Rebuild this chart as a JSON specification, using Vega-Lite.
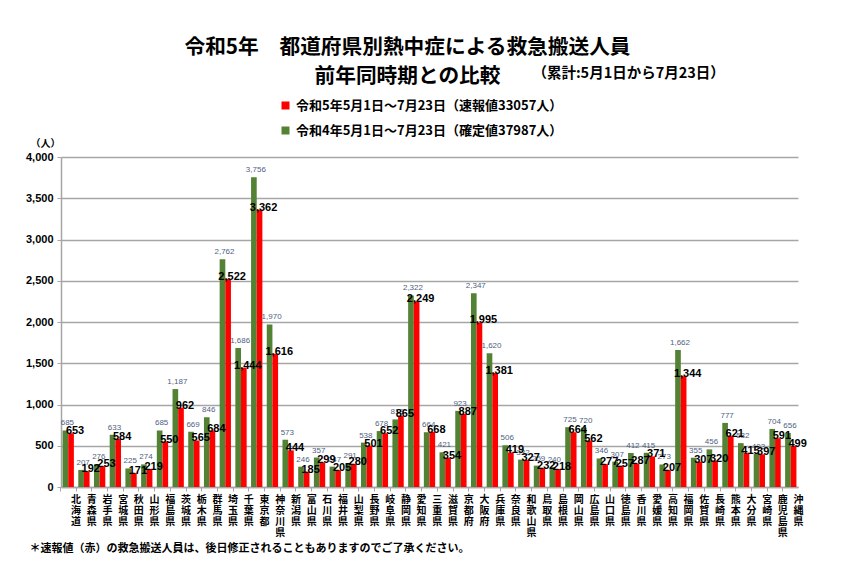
{
  "$schema": "https://vega.github.io/schema/vega-lite/v6.json",
  "width": 737,
  "height": 330,
  "autosize": "none",
  "padding": {"left": 61, "top": 157, "right": 56, "bottom": 97},
  "title": {
    "text": ["令和5年　都道府県別熱中症による救急搬送人員", "前年同時期との比較"],
    "subtitle": "\u200b　　　　　　　　　　　　　　　　　　　　　　　　　　　　　　　（累計:5月1日から7月23日）",
    "anchor": "middle",
    "frame": "group",
    "dx": -22,
    "font": "Noto Sans CJK JP",
    "fontSize": 20.7,
    "fontWeight": "bold",
    "lineHeight": 29,
    "color": "#000000",
    "subtitleFont": "Noto Sans CJK JP",
    "subtitleFontSize": 14.5,
    "subtitleFontWeight": "bold",
    "subtitleColor": "#000000",
    "subtitlePadding": -21,
    "offset": 11
  },
  "data": {
    "values": [
      {"pref": "北海道", "r4": 685, "r5": 653},
      {"pref": "青森県", "r4": 207, "r5": 192},
      {"pref": "岩手県", "r4": 276, "r5": 253},
      {"pref": "宮城県", "r4": 633, "r5": 584},
      {"pref": "秋田県", "r4": 225, "r5": 171},
      {"pref": "山形県", "r4": 274, "r5": 219},
      {"pref": "福島県", "r4": 685, "r5": 550},
      {"pref": "茨城県", "r4": 1187, "r5": 962},
      {"pref": "栃木県", "r4": 669, "r5": 565},
      {"pref": "群馬県", "r4": 846, "r5": 684},
      {"pref": "埼玉県", "r4": 2762, "r5": 2522},
      {"pref": "千葉県", "r4": 1686, "r5": 1444},
      {"pref": "東京都", "r4": 3756, "r5": 3362},
      {"pref": "神奈川県", "r4": 1970, "r5": 1616},
      {"pref": "新潟県", "r4": 573, "r5": 444},
      {"pref": "富山県", "r4": 246, "r5": 185},
      {"pref": "石川県", "r4": 357, "r5": 299},
      {"pref": "福井県", "r4": 247, "r5": 205},
      {"pref": "山梨県", "r4": 291, "r5": 280},
      {"pref": "長野県", "r4": 538, "r5": 501},
      {"pref": "岐阜県", "r4": 678, "r5": 652},
      {"pref": "静岡県", "r4": 819, "r5": 865},
      {"pref": "愛知県", "r4": 2322, "r5": 2249},
      {"pref": "三重県", "r4": 664, "r5": 668},
      {"pref": "滋賀県", "r4": 421, "r5": 354},
      {"pref": "京都府", "r4": 923, "r5": 887},
      {"pref": "大阪府", "r4": 2347, "r5": 1995},
      {"pref": "兵庫県", "r4": 1620, "r5": 1381},
      {"pref": "奈良県", "r4": 506, "r5": 419},
      {"pref": "和歌山県", "r4": 332, "r5": 327},
      {"pref": "鳥取県", "r4": 259, "r5": 232},
      {"pref": "島根県", "r4": 240, "r5": 218},
      {"pref": "岡山県", "r4": 725, "r5": 664},
      {"pref": "広島県", "r4": 720, "r5": 562},
      {"pref": "山口県", "r4": 346, "r5": 277},
      {"pref": "徳島県", "r4": 307, "r5": 257},
      {"pref": "香川県", "r4": 412, "r5": 287},
      {"pref": "愛媛県", "r4": 415, "r5": 371},
      {"pref": "高知県", "r4": 273, "r5": 207},
      {"pref": "福岡県", "r4": 1662, "r5": 1344},
      {"pref": "佐賀県", "r4": 355, "r5": 307},
      {"pref": "長崎県", "r4": 456, "r5": 320},
      {"pref": "熊本県", "r4": 777, "r5": 621},
      {"pref": "大分県", "r4": 532, "r5": 415},
      {"pref": "宮崎県", "r4": 403, "r5": 397},
      {"pref": "鹿児島県", "r4": 704, "r5": 591},
      {"pref": "沖縄県", "r4": 656, "r5": 499}
    ]
  },
  "transform": [
    {"fold": ["r4", "r5"], "as": ["key", "count"]}
  ],
  "encoding": {
    "x": {
      "field": "pref",
      "type": "nominal",
      "sort": null,
      "scale": {"paddingInner": 0.28, "paddingOuter": 0.1},
      "axis": {
        "title": "＊速報値（赤）の救急搬送人員は、後日修正されることもありますのでご了承ください。",
        "titleFont": "Noto Sans CJK JP",
        "titleFontSize": 11,
        "titleFontWeight": "bold",
        "titleColor": "#000000",
        "titleAnchor": "start",
        "titleAlign": "left",
        "titleBaseline": "middle",
        "titleX": -32,
        "titleY": 61,
        "labelAngle": 0,
        "labelExpr": "split(datum.label, '')",
        "labelFont": "Noto Sans CJK JP",
        "labelFontSize": 10,
        "labelFontWeight": "bold",
        "labelColor": "#000000",
        "labelLineHeight": 11,
        "labelBaseline": "top",
        "labelPadding": 3,
        "bandPosition": -0.195,
        "labelOffset": 7.8,
        "tickSize": 4,
        "tickColor": "#A6A6A6",
        "domainColor": "#A6A6A6",
        "domainWidth": 1.5
      }
    },
    "xOffset": {"field": "key", "type": "nominal", "scale": {"domain": ["r4", "r5"], "paddingInner": 0}},
    "y": {
      "field": "count",
      "type": "quantitative",
      "scale": {"domain": [0, 4000]},
      "axis": {
        "values": [0, 500, 1000, 1500, 2000, 2500, 3000, 3500, 4000],
        "format": ",d",
        "title": "（人）",
        "titleAngle": 0,
        "titleX": -16,
        "titleY": -14,
        "titleAlign": "center",
        "titleBaseline": "middle",
        "titleFont": "Noto Sans CJK JP",
        "titleFontSize": 10,
        "titleFontWeight": "bold",
        "titleColor": "#000000",
        "labelFont": "Liberation Sans",
        "labelFontSize": 11,
        "labelFontWeight": "bold",
        "labelColor": "#000000",
        "labelPadding": 4,
        "tickSize": 4,
        "tickColor": "#A6A6A6",
        "domainColor": "#A6A6A6",
        "domainWidth": 1.5,
        "gridColor": "#A6A6A6",
        "gridWidth": 1.5
      }
    }
  },
  "layer": [
    {
      "mark": {"type": "bar"},
      "encoding": {
        "color": {
          "field": "key",
          "type": "nominal",
          "scale": {"domain": ["r5", "r4"], "range": ["#FF0000", "#548235"]},
          "legend": {
            "orient": "none",
            "legendX": 218,
            "legendY": -58,
            "title": null,
            "symbolType": "square",
            "symbolSize": 64,
            "symbolStrokeWidth": 0,
            "labelFont": "Noto Sans CJK JP",
            "labelFontSize": 13,
            "labelFontWeight": "bold",
            "labelColor": "#000000",
            "labelOffset": 4,
            "labelLimit": 400,
            "rowPadding": 11,
            "labelExpr": "datum.value == 'r5' ? '令和5年5月1日～7月23日（速報値33057人）' : '令和4年5月1日～7月23日（確定値37987人）'"
          }
        }
      }
    },
    {
      "transform": [{"filter": "datum.key == 'r4'"}],
      "mark": {"type": "text", "baseline": "bottom", "dy": -3, "dx": 2, "font": "Liberation Sans", "fontSize": 8, "color": "#4F5F7F"},
      "encoding": {
        "text": {"field": "count", "type": "quantitative", "format": ","}
      }
    },
    {
      "transform": [{"filter": "datum.key == 'r5'"}],
      "mark": {"type": "text", "baseline": "bottom", "dy": 3, "dx": 4, "font": "Liberation Sans", "fontSize": 11, "fontWeight": "bold", "color": "#000000"},
      "encoding": {
        "text": {"field": "count", "type": "quantitative", "format": ","}
      }
    }
  ],
  "config": {
    "view": {"stroke": null},
    "background": "#FFFFFF"
  }
}
